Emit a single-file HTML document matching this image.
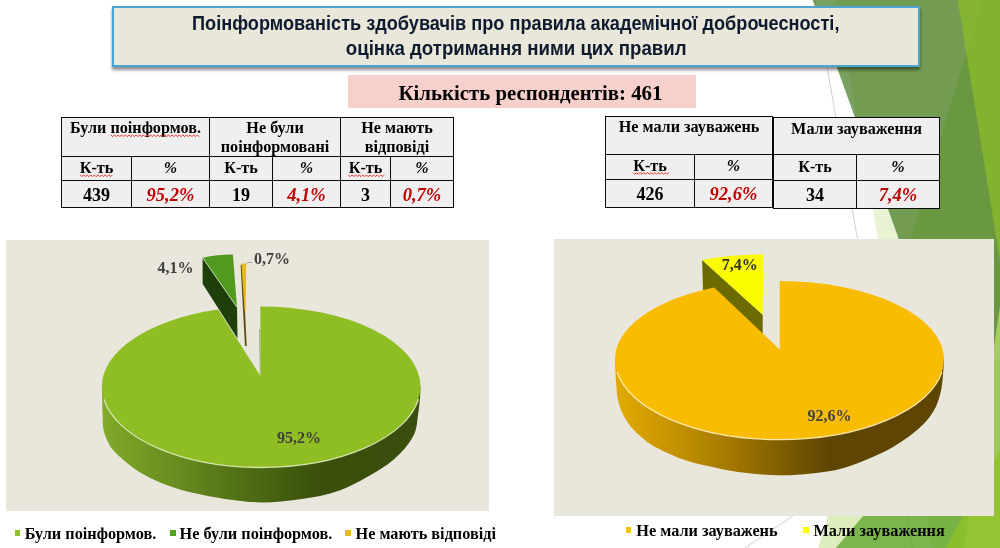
<!DOCTYPE html>
<html><head><meta charset="utf-8"><title>slide</title>
<style>
html,body{margin:0;padding:0;background:#fff;}
body{width:1000px;height:548px;position:relative;overflow:hidden;font-family:"Liberation Serif",serif;color:#000;}
.abs{position:absolute;}
#bg,#pies{position:absolute;left:0;top:0;}
#title{left:112px;top:6.3px;width:803.5px;height:56.7px;background:#E9E6DA;border:2px solid #4AA5D0;box-shadow:0 3px 3px rgba(0,0,0,0.45);}
#title div{position:absolute;left:0;width:100%;text-align:center;font-family:"Liberation Sans",sans-serif;font-weight:bold;font-size:19.5px;color:#0E1A2E;white-space:nowrap;line-height:22px;}
#title span{display:inline-block;transform-origin:50% 50%;}
#pink{left:348px;top:75px;width:348.4px;height:33px;background:#F8D0CB;}
#pink div{position:absolute;left:50.5px;top:5.7px;font-weight:bold;font-size:20.8px;line-height:24px;white-space:nowrap;}
.chart{background:#E9E6DB;}
table{position:absolute;border-collapse:collapse;table-layout:fixed;}
td{border:1px solid #0a0a0a;background:#EFEFEF;text-align:center;vertical-align:top;font-weight:bold;font-size:16.2px;line-height:18px;padding:0;white-space:nowrap;}
td>div{height:0;overflow:visible;position:relative;}
td.d{font-size:18px;line-height:22px;}
td.p{font-style:italic;font-size:16px;}
td.r{font-style:italic;color:#C00000;font-size:18.5px;line-height:22px;}
#t1 tr.a td>div{top:0.9px;line-height:19px;} #t1 tr.b td>div{top:2.2px;} #t1 tr.c td>div{top:3.4px;}
#t2 tr.a td>div{top:1.2px;} #t2 tr.b td>div{top:1.6px;} #t2 tr.c td>div{top:3.4px;}
#t3 tr.a td>div{top:1.6px;} #t3 tr.b td>div{top:2.7px;} #t3 tr.c td>div{top:3.0px;}
.wv{position:absolute;}
.lbl{position:absolute;font-weight:bold;font-size:16px;line-height:18px;color:#404040;white-space:nowrap;}
.lg{position:absolute;font-weight:bold;font-size:16.25px;line-height:18px;white-space:nowrap;color:#000;}
.mk{position:absolute;width:5.9px;height:5.8px;}
#wrap{position:absolute;left:-20px;top:-20px;width:1040px;height:588px;filter:blur(0.5px);}
#in{position:absolute;left:20px;top:20px;width:1000px;height:548px;}
</style></head><body><div id="wrap"><div id="in">
<svg id="bg" width="1000" height="548" viewBox="0 0 1000 548">
<line x1="814.2" y1="-4.7" x2="925.3" y2="619.9" stroke="#D0D0D0" stroke-width="1"/>
<line x1="637.0" y1="619.9" x2="1070.9" y2="330.6" stroke="#D0D0D0" stroke-width="1"/>
<polygon points="983.3,-4.7 1071.1,-4.7 1071.1,619.9 796.9,619.9" fill="#90C226" fill-opacity="0.3"/>
<polygon points="835.4,-4.7 1071.1,-4.7 1071.1,619.9 944.9,619.9" fill="#90C226" fill-opacity="0.2"/>
<polygon points="1071.1,272.9 1071.1,619.9 774.3,619.9" fill="#54A021" fill-opacity="0.72"/>
<polygon points="810.9,-4.7 1071.1,-4.7 1071.1,619.9 1036.2,619.9" fill="#3F7819" fill-opacity="0.7"/>
<polygon points="1046.2,-4.7 1071.1,-4.7 1071.1,619.9 953.4,619.9" fill="#C0E474" fill-opacity="0.7"/>
<polygon points="957.0,-4.7 1071.1,-4.7 1071.1,619.9 1058.1,619.9" fill="#90C226" fill-opacity="0.65"/>
<polygon points="1071.1,322.3 1071.1,619.9 905.4,619.9" fill="#90C226" fill-opacity="0.8"/>
</svg>
<div class="abs" id="title"><div style="top:3.4px"><span style="transform:scaleX(0.931)">Поінформованість здобувачів про правила академічної доброчесності,</span></div><div style="top:29.2px"><span style="transform:scaleX(0.956)">оцінка дотримання ними цих правил</span></div></div>
<div class="abs" id="pink"><div>Кількість респондентів: 461</div></div>

<table id="t1" style="left:61px;top:117px;width:393px;height:91px;">
<colgroup><col style="width:70px"><col style="width:78px"><col style="width:63px"><col style="width:68px"><col style="width:50px"><col style="width:63px"></colgroup>
<tr class="a" style="height:39px"><td colspan="2"><div>Були поінформов.</div></td><td colspan="2"><div>Не були<br>поінформовані</div></td><td colspan="2"><div>Не мають<br>відповіді</div></td></tr>
<tr class="b" style="height:24px"><td><div>К-ть</div></td><td class="p"><div>%</div></td><td><div>К-ть</div></td><td class="p"><div>%</div></td><td><div>К-ть</div></td><td class="p"><div>%</div></td></tr>
<tr class="c" style="height:27px"><td class="d"><div>439</div></td><td class="r"><div>95,2%</div></td><td class="d"><div>19</div></td><td class="r"><div>4,1%</div></td><td class="d"><div>3</div></td><td class="r"><div>0,7%</div></td></tr>
</table>

<table id="t2" style="left:605px;top:116px;width:167px;height:92px;">
<colgroup><col style="width:89px"><col style="width:78px"></colgroup>
<tr class="a" style="height:38px"><td colspan="2"><div>Не мали зауважень</div></td></tr>
<tr class="b" style="height:25px"><td><div>К-ть</div></td><td class="p"><div>%</div></td></tr>
<tr class="c" style="height:28px"><td class="d"><div>426</div></td><td class="r"><div>92,6%</div></td></tr>
</table>
<table id="t3" style="left:773px;top:117px;width:167px;height:92px;">
<colgroup><col style="width:83px"><col style="width:83px"></colgroup>
<tr class="a" style="height:37px"><td colspan="2"><div>Мали зауваження</div></td></tr>
<tr class="b" style="height:26px"><td><div>К-ть</div></td><td class="p"><div>%</div></td></tr>
<tr class="c" style="height:28px"><td class="d"><div>34</div></td><td class="r"><div>7,4%</div></td></tr>
</table>
<svg class="wv" style="left:0;top:0" width="1000" height="548" viewBox="0 0 1000 548"><polyline points="110.9,134.9 112.7,136.7 114.5,134.9 116.3,136.7 118.1,134.9 119.9,136.7 121.7,134.9 123.5,136.7 125.3,134.9 127.1,136.7 128.9,134.9 130.7,136.7 132.5,134.9 134.3,136.7 136.1,134.9 137.9,136.7 139.7,134.9 141.5,136.7 143.3,134.9 145.1,136.7 146.9,134.9 148.7,136.7 150.5,134.9 152.3,136.7 154.1,134.9 155.9,136.7 157.7,134.9 159.5,136.7 161.3,134.9 163.1,136.7 164.9,134.9 166.7,136.7 168.5,134.9 170.3,136.7 172.1,134.9 173.9,136.7 175.7,134.9 177.5,136.7 179.3,134.9 181.1,136.7 182.9,134.9 184.7,136.7 186.5,134.9 188.3,136.7 190.1,134.9 191.9,136.7 193.7,134.9 195.5,136.7 197.3,134.9 199.1,136.7" fill="none" stroke="#E8352E" stroke-width="1" stroke-opacity="1"/><polyline points="80.0,174.9 81.8,176.7 83.6,174.9 85.4,176.7 87.2,174.9 89.0,176.7 90.8,174.9 92.6,176.7 94.4,174.9 96.2,176.7 98.0,174.9 99.8,176.7 101.6,174.9 103.4,176.7 105.2,174.9 107.0,176.7 108.8,174.9 110.6,176.7 112.4,174.9" fill="none" stroke="#E8352E" stroke-width="1" stroke-opacity="1"/><polyline points="348.4,174.9 350.2,176.7 352.0,174.9 353.8,176.7 355.6,174.9 357.4,176.7 359.2,174.9 361.0,176.7 362.8,174.9 364.6,176.7 366.4,174.9 368.2,176.7 370.0,174.9 371.8,176.7 373.6,174.9 375.4,176.7 377.2,174.9 379.0,176.7 380.8,174.9 382.6,176.7 384.4,174.9" fill="none" stroke="#E8352E" stroke-width="1" stroke-opacity="1"/><polyline points="633.0,172.5 634.8,174.3 636.6,172.5 638.4,174.3 640.2,172.5 642.0,174.3 643.8,172.5 645.6,174.3 647.4,172.5 649.2,174.3 651.0,172.5 652.8,174.3 654.6,172.5 656.4,174.3 658.2,172.5 660.0,174.3 661.8,172.5 663.6,174.3 665.4,172.5 667.2,174.3 669.0,172.5" fill="none" stroke="#E8352E" stroke-width="1" stroke-opacity="1"/></svg>
<div class="abs chart" style="left:6px;top:240px;width:483px;height:270.7px;"></div>
<div class="abs chart" style="left:554px;top:239px;width:440.2px;height:276.6px;"></div>
<svg id="pies" width="1000" height="548" viewBox="0 0 1000 548">
<defs>
<linearGradient id="gL" x1="102" x2="421" y1="0" y2="0" gradientUnits="userSpaceOnUse">
<stop offset="0" stop-color="#82AC2A"/><stop offset="0.047" stop-color="#7BA327"/><stop offset="0.216" stop-color="#6A8F1F"/><stop offset="0.386" stop-color="#567718"/><stop offset="0.555" stop-color="#45600F"/><stop offset="0.68" stop-color="#3A500C"/><stop offset="1" stop-color="#3A4E0D"/></linearGradient>
<linearGradient id="gR" x1="615" x2="944" y1="0" y2="0" gradientUnits="userSpaceOnUse">
<stop offset="0" stop-color="#E2AA00"/><stop offset="0.076" stop-color="#D7A000"/><stop offset="0.2" stop-color="#C19000"/><stop offset="0.365" stop-color="#A07600"/><stop offset="0.53" stop-color="#7A5A00"/><stop offset="0.65" stop-color="#5E4500"/><stop offset="1" stop-color="#5E4500"/></linearGradient>
</defs>
<polygon points="202.6,257.7 237,307.3 237.5,338.4 202.6,283.8" fill="#1F3F0A"/>
<path d="M202.6,257.7 Q217,254.5 232.9,254.5 L237,307.3 Z" fill="#51991F"/>
<line x1="202.8" y1="258" x2="237" y2="307.3" stroke="#D8E8C4" stroke-width="0.8"/>
<polygon points="240.6,265 242.8,265 246.7,346 245.0,346" fill="#5C4A10"/>
<polygon points="241.4,263.5 246.3,263.5 245.6,311 244.6,311" fill="#E6B91E"/>
<polyline points="246.3,263.5 248,262.5 252.5,262.5" fill="none" stroke="#A6A6A6" stroke-width="1"/>
<line x1="259.5" y1="329" x2="260.3" y2="375" stroke="#3A4A1C" stroke-width="0.6" stroke-opacity="0.7"/>
<path d="M420.5,386.6 C420.4,388.5 420.4,393.8 420.0,398.0 C419.6,402.2 419.3,406.0 418.4,412.0 C417.4,418.0 417.3,427.2 414.3,434.1 C411.3,441.0 406.0,447.4 400.3,453.2 C394.6,459.0 390.2,463.0 380.2,469.2 C370.2,475.4 353.5,485.3 340.1,490.3 C326.7,495.3 313.2,497.3 300.0,499.3 C286.8,501.3 273.5,502.5 261.0,502.4 C248.5,502.3 235.9,500.4 225.0,498.9 C214.1,497.4 203.6,495.1 195.3,493.3 C187.0,491.5 181.9,490.1 175.2,487.9 C168.5,485.7 161.9,483.3 155.2,480.2 C148.5,477.1 141.8,473.9 135.1,469.2 C128.4,464.5 119.6,456.7 115.1,452.2 C110.6,447.7 109.9,445.7 108.0,442.0 C106.1,438.3 104.5,434.5 103.6,430.0 C102.7,425.5 102.9,422.2 102.6,415.0 C102.3,407.8 102.0,391.3 101.9,386.6 Z" fill="url(#gL)"/>
<path d="M260.6,376.3 L260.3,306.5 A159.3,80.1 0 0 1 420.5,386.6 A159.3,81.0 0 0 1 101.9,386.6 A159.3,80.1 0 0 1 218.1,309.5 Z" fill="#8FBD24"/>
<path d="M418.5,399.3 A159.3,81.0 0 0 1 103.9,399.3" fill="none" stroke="#DDEBB8" stroke-width="1.3" stroke-opacity="0.9"/>
<polygon points="702.1,260 762.7,314.8 762.7,334 703,290" fill="#6B6B00"/>
<path d="M702.1,260 Q732,254.6 763.3,254.6 L762.7,314.8 Z" fill="#FAFA00"/>
<path d="M944.0,359.3 C943.9,361.4 943.8,366.6 943.2,372.0 C942.7,377.4 942.4,385.3 940.7,391.9 C939.1,398.5 937.0,405.5 933.3,411.6 C929.6,417.8 925.1,423.0 918.5,428.8 C911.9,434.6 902.1,441.7 893.9,446.6 C885.7,451.5 877.5,454.9 869.3,458.4 C861.1,461.9 852.8,465.4 844.6,467.7 C836.4,470.0 830.9,471.1 820.0,472.4 C809.1,473.7 793.2,475.4 779.5,475.3 C765.8,475.2 750.2,473.5 738.0,471.9 C725.8,470.3 715.9,467.9 706.5,465.8 C697.1,463.7 690.1,462.1 681.9,459.1 C673.7,456.1 663.5,451.2 657.3,448.0 C651.1,444.8 649.0,443.1 644.9,439.9 C640.8,436.7 636.3,433.1 632.6,428.8 C628.9,424.5 625.3,419.0 622.8,414.0 C620.3,409.0 618.9,403.8 617.8,399.0 C616.7,394.2 616.8,391.6 616.3,385.0 C615.8,378.4 615.2,363.6 615.0,359.3 Z" fill="url(#gR)"/>
<path d="M779.7,349.5 L779.7,281.0 A164.5,78.3 0 0 1 944.0,359.3 A164.5,80.3 0 0 1 615.0,359.3 A164.5,78.3 0 0 1 714.2,287.4 Z" fill="#FABC00"/>
<path d="M942.0,371.9 A164.5,80.3 0 0 1 617.0,371.9" fill="none" stroke="#FFF0C0" stroke-width="1.3" stroke-opacity="0.9"/>
</svg>
<div class="lbl" style="left:157.4px;top:258.7px;">4,1%</div>
<div class="lbl" style="left:254px;top:249.5px;">0,7%</div>
<div class="lbl" style="left:277.1px;top:428.9px;">95,2%</div>
<div class="lbl" style="left:721.8px;top:256.4px;color:#333;">7,4%</div>
<div class="lbl" style="left:807.5px;top:406.8px;">92,6%</div>

<div class="mk" style="left:14.6px;top:530.3px;background:#90C226"></div><div class="lg" style="left:24.7px;top:524.5px;">Були поінформов.</div>
<div class="mk" style="left:169.8px;top:530.3px;background:#54A021"></div><div class="lg" style="left:179.6px;top:524.5px;">Не були поінформов.</div>
<div class="mk" style="left:345.4px;top:530.3px;background:#E6B91E"></div><div class="lg" style="left:355.5px;top:524.5px;">Не мають відповіді</div>
<div class="mk" style="height:6.8px;left:625.6px;top:526.6px;background:#FFC000"></div><div class="lg" style="left:636.3px;top:522.2px;">Не мали зауважень</div>
<div class="mk" style="height:6.8px;left:803.1px;top:526.6px;background:#FFFF00"></div><div class="lg" style="left:813.4px;top:522.2px;">Мали зауваження</div>
</div></div></body></html>
